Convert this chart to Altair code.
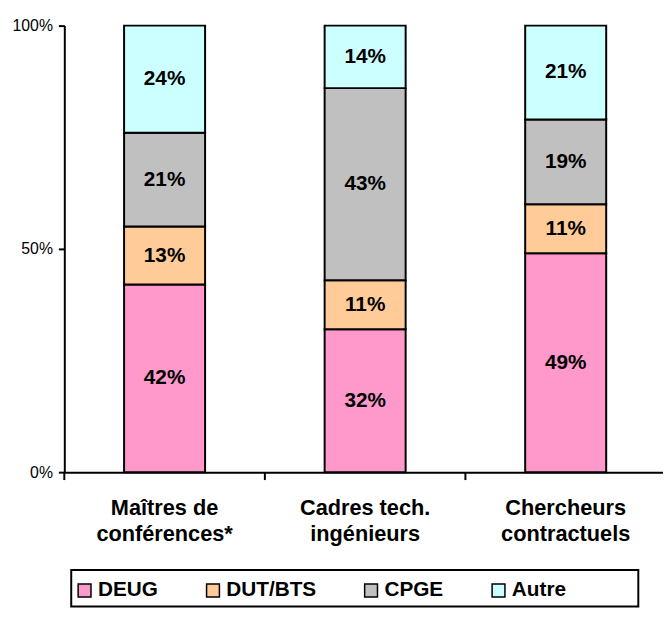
import altair as alt
import pandas as pd

categories = ["Maîtres de\nconférences*", "Cadres tech.\ningénieurs", "Chercheurs\ncontractuels"]
series = ["DEUG", "DUT/BTS", "CPGE", "Autre"]
deug = [42, 32, 49]
dut_bts = [13, 11, 11]
cpge = [21, 43, 19]
autre = [24, 14, 21]
colors = ["#FF99CC", "#FFCC99", "#C0C0C0", "#CCFFFF"]
y_ticks = [0, 0.5, 1]

FONT = "Liberation Sans"

rows = []
for s_i, (s, vals) in enumerate(zip(series, [deug, dut_bts, cpge, autre])):
    for c, v in zip(categories, vals):
        rows.append({"cat": c, "serie": s, "order": s_i, "value": v / 100.0, "label": f"{v}%"})
df = pd.DataFrame(rows)

x_scale = alt.Scale(paddingInner=0, paddingOuter=0, range=[0, 609])

x_enc = alt.X(
    "cat:N",
    sort=categories,
    scale=x_scale,
    axis=alt.Axis(
        title=None, labelAngle=0, ticks=False, tickSize=0, labelPadding=26,
        labelFontSize=22, labelFontWeight="bold", labelLineHeight=26,
        labelExpr="split(datum.label, '\\n')", labelBaseline="top",
        domainWidth=2, domainColor="black", labelColor="black", labelLimit=300,
    ),
)

base = (
    alt.Chart(df)
    .transform_stack(stack="value", groupby=["cat"], as_=["y0", "y1"],
                     sort=[alt.SortField("order", "ascending")])
    .transform_calculate(ymid="(datum.y0 + datum.y1) / 2")
)

bars = base.mark_bar(size=82, stroke="black", strokeWidth=2).encode(
    x=x_enc,
    y=alt.Y("y0:Q", scale=alt.Scale(domain=[0, 1], nice=False),
            axis=alt.Axis(values=y_ticks, format="%", title=None, tickSize=6, tickWidth=2,
                          tickColor="black", labelPadding=6, labelFontSize=16,
                          labelColor="black", domainColor="black", domainWidth=2, grid=False)),
    y2="y1:Q",
    color=alt.Color(
        "serie:N",
        scale=alt.Scale(domain=series, range=colors),
        legend=alt.Legend(
            title=None, orient="none", legendX=10, legendY=561, direction="horizontal",
            symbolType="square", symbolSize=169, symbolStrokeColor="black",
            symbolStrokeWidth=1.5, labelFontSize=21, labelFontWeight="bold",
            labelColor="black", columnPadding=45, labelOffset=3, padding=0,
        ),
    ),
)

texts = base.mark_text(fontSize=21, fontWeight="bold", color="black", baseline="middle").encode(
    x=alt.X("cat:N", sort=categories),
    y=alt.Y("ymid:Q"),
    text="label:N",
)

ticks = alt.Chart(pd.DataFrame({"cat": categories})).mark_rule(color="black", strokeWidth=2).encode(
    x=alt.X("cat:N", sort=categories, bandPosition=0),
    y=alt.value(452),
    y2=alt.value(460),
)

frame = alt.Chart(alt.Data(values=[{"f": 1}])).mark_rect(
    fillOpacity=0, stroke="black", strokeWidth=2
).encode(
    x=alt.value(7), x2=alt.value(581), y=alt.value(551), y2=alt.value(588)
)

chart = (
    alt.layer(bars, texts, ticks, frame)
    .properties(width=606, height=452, autosize="none",
                padding={"left": 57, "top": 14, "right": 0, "bottom": 161})
    .configure(font=FONT)
    .configure_view(stroke=None)
)

chart.save("out.html", embed_options={"renderer": "svg", "actions": False})
